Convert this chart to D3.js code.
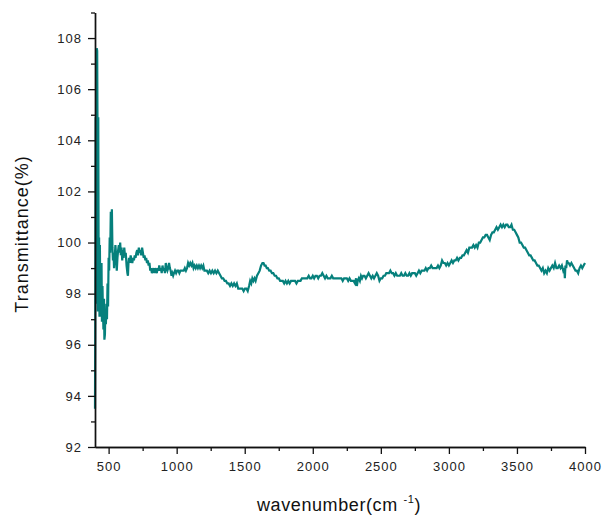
<!DOCTYPE html>
<html>
<head>
<meta charset="utf-8">
<script src="https://d3js.org/d3.v7.min.js"></script>
<style>
body{margin:0;background:#fff;}
svg{display:block;font-family:"Liberation Sans",Arial,sans-serif;}
</style>
</head>
<body>
<svg id="chart" width="602" height="515"></svg>
<script>
const wavenumber = [400,402,405,408,410,413,416,418,421,424,427,430,433,436,439,442,445,448,451,455,458,462,466,469,473,476,480,484,488,492,496,500,504,508,512,516,520,524,528,532,536,540,545,550,555,560,565,570,575,580,585,590,595,600,605,610,615,620,626,632,638,642,646,650,656,662,668,674,680,686,692,698,704,710,716,722,728,734,740,746,752,758,764,770,776,782,788,794,800,806,812,818,824,830,836,842,848,854,860,866,872,878,884,890,896,902,908,914,920,926,932,938,944,950,956,962,968,974,980,988,996,1004,1012,1020,1028,1036,1044,1052,1060,1068,1076,1084,1092,1100,1108,1116,1124,1132,1140,1148,1156,1164,1172,1180,1188,1196,1204,1212,1222,1232,1242,1252,1262,1272,1282,1292,1302,1312,1322,1332,1342,1352,1362,1372,1382,1392,1402,1412,1422,1432,1442,1452,1462,1472,1482,1492,1502,1512,1522,1532,1540,1548,1556,1564,1572,1580,1590,1600,1610,1620,1630,1638,1646,1654,1662,1670,1680,1690,1700,1710,1720,1730,1740,1750,1760,1770,1780,1790,1800,1810,1820,1830,1840,1850,1860,1870,1880,1890,1900,1910,1920,1930,1940,1950,1960,1970,1980,1990,2000,2010,2020,2030,2040,2050,2060,2070,2080,2090,2100,2110,2120,2130,2140,2150,2160,2170,2180,2190,2200,2210,2220,2230,2240,2250,2260,2270,2280,2290,2300,2310,2318,2324,2330,2338,2346,2354,2362,2370,2380,2390,2400,2410,2420,2430,2440,2450,2460,2470,2480,2490,2500,2510,2520,2530,2540,2550,2560,2570,2580,2590,2600,2610,2620,2630,2640,2650,2660,2670,2680,2690,2700,2710,2720,2730,2740,2750,2760,2770,2780,2790,2800,2810,2820,2830,2840,2850,2860,2870,2880,2890,2900,2910,2920,2930,2940,2950,2960,2970,2980,2990,3000,3010,3020,3030,3040,3050,3060,3070,3080,3090,3100,3110,3120,3130,3140,3150,3160,3170,3180,3190,3200,3210,3220,3230,3240,3250,3260,3270,3280,3290,3300,3310,3320,3330,3340,3350,3360,3370,3380,3390,3400,3410,3420,3430,3440,3450,3460,3470,3480,3490,3500,3510,3520,3530,3540,3550,3560,3570,3580,3590,3600,3610,3620,3630,3640,3650,3660,3670,3680,3690,3700,3710,3720,3730,3740,3750,3760,3770,3780,3790,3800,3810,3820,3830,3840,3848,3852,3856,3862,3868,3874,3880,3890,3900,3910,3920,3930,3940,3950,3960,3970,3980,3990,4000];
const transmittance = [93.5,97.2,104.9,97.6,105.0,107.6,107.5,105.0,97.3,104.9,98.4,100.2,97.1,99.9,97.4,98.6,97.1,99.2,96.9,98.3,97.4,96.6,97.8,96.2,96.4,97.3,96.8,97.6,97.0,98.4,97.5,99.4,98.9,100.2,99.6,101.2,100.3,101.3,99.8,99.3,99.6,99.0,99.4,99.9,99.5,98.9,99.4,99.7,99.9,99.6,100.0,99.5,99.8,99.3,99.7,99.4,99.8,99.5,99.6,99.1,98.8,98.7,99.2,99.4,99.2,99.5,99.3,99.2,99.4,99.3,99.5,99.4,99.6,99.7,99.5,99.8,99.6,99.7,99.5,99.8,99.6,99.4,99.5,99.3,99.4,99.2,99.3,99.1,99.2,98.9,99.0,98.8,98.9,99.0,98.8,99.0,98.9,98.8,99.0,98.9,99.1,98.9,99.0,98.8,99.1,98.9,99.0,98.8,99.2,99.0,98.9,99.0,99.2,99.0,98.9,98.7,98.8,98.7,98.8,98.9,98.8,98.9,98.9,98.8,98.9,98.9,98.9,98.9,99.0,98.9,99.0,99.2,99.1,99.2,99.1,99.2,99.0,99.1,99.0,99.1,99.0,99.1,99.0,99.1,99.0,99.1,98.9,98.9,98.9,98.8,98.9,98.8,98.9,98.8,98.9,98.8,98.9,98.8,98.7,98.6,98.6,98.5,98.5,98.4,98.4,98.3,98.4,98.3,98.4,98.3,98.4,98.2,98.2,98.2,98.2,98.1,98.2,98.2,98.1,98.3,98.5,98.4,98.6,98.5,98.6,98.5,98.7,98.8,98.9,99.1,99.2,99.2,99.1,99.1,99.0,99.0,98.9,98.9,98.8,98.8,98.7,98.7,98.6,98.6,98.5,98.5,98.5,98.4,98.5,98.4,98.5,98.4,98.5,98.5,98.5,98.5,98.4,98.5,98.5,98.5,98.6,98.6,98.6,98.6,98.6,98.7,98.6,98.6,98.7,98.6,98.7,98.7,98.6,98.7,98.7,98.8,98.7,98.6,98.7,98.6,98.6,98.6,98.7,98.6,98.6,98.6,98.6,98.6,98.6,98.6,98.5,98.6,98.6,98.6,98.5,98.6,98.5,98.5,98.5,98.4,98.6,98.3,98.5,98.6,98.5,98.7,98.6,98.7,98.7,98.6,98.7,98.8,98.7,98.6,98.7,98.6,98.7,98.8,98.7,98.5,98.6,98.6,98.7,98.7,98.8,98.8,98.8,98.9,98.8,98.8,98.7,98.8,98.7,98.7,98.7,98.8,98.7,98.7,98.8,98.7,98.7,98.8,98.7,98.8,98.8,98.8,98.7,98.8,98.9,98.8,98.9,98.9,98.9,99.0,98.9,99.0,99.0,99.1,99.0,99.0,99.0,99.0,99.1,99.0,99.1,99.3,99.2,99.2,99.1,99.2,99.1,99.2,99.3,99.2,99.3,99.3,99.4,99.3,99.4,99.4,99.5,99.5,99.6,99.7,99.6,99.8,99.8,99.8,99.9,99.8,99.9,99.8,100.0,100.0,100.1,100.2,100.2,100.3,100.3,100.2,100.1,100.3,100.4,100.4,100.5,100.6,100.5,100.6,100.7,100.6,100.7,100.6,100.7,100.7,100.6,100.6,100.7,100.5,100.5,100.4,100.3,100.2,100.0,100.0,99.9,99.8,99.8,99.7,99.6,99.5,99.5,99.4,99.3,99.3,99.2,99.1,99.1,99.0,98.9,99.0,98.8,98.9,98.8,99.0,98.9,99.0,99.1,99.0,99.2,99.0,99.0,99.1,99.0,99.1,98.9,99.0,98.6,99.1,99.0,99.3,99.2,99.2,99.1,99.2,99.1,99.0,98.9,98.9,98.8,99.0,99.1,99.0,99.1,99.2];
const xTicks = [500,1000,1500,2000,2500,3000,3500,4000];
const xMinorTicks = [750,1250,1750,2250,2750,3250,3750];
const yTicks = [92,94,96,98,100,102,104,106,108];
const yMinorTicks = [93,95,97,99,101,103,105,107,109];

const svg = d3.select("#chart");
const x = d3.scaleLinear().domain([400,4000]).range([95,585]);
const y = d3.scaleLinear().domain([92,109]).range([447,12.5]);

const data = wavenumber.map((w,i)=>({w, t: transmittance[i]}));

svg.append("path")
  .datum(data)
  .attr("fill","none")
  .attr("stroke","#06807c")
  .attr("stroke-width",2.2)
  .attr("stroke-linejoin","miter")
  .attr("d", d3.line().x(d=>x(d.w)).y(d=>y(d.t)));

function styleAxis(g){
  g.selectAll("path.domain").attr("stroke","#111").attr("stroke-width",1.4);
  g.selectAll("line").attr("stroke","#111").attr("stroke-width",1.3);
  g.selectAll("text").attr("fill","#222").style("font-size","13px").style("letter-spacing","1px").style("font-family","'Liberation Sans',Arial,sans-serif");
}

// minor ticks
svg.append("g").attr("transform","translate(0,447)")
  .call(d3.axisBottom(x).tickValues(xMinorTicks).tickSize(4).tickSizeOuter(0).tickFormat(""))
  .call(styleAxis);
svg.append("g").attr("transform","translate(95,0)")
  .call(d3.axisLeft(y).tickValues(yMinorTicks).tickSize(4).tickSizeOuter(0).tickFormat(""))
  .call(styleAxis);

// major axes
svg.append("g").attr("transform","translate(0,447)")
  .call(d3.axisBottom(x).tickValues(xTicks).tickSize(7).tickSizeOuter(0).tickPadding(8).tickFormat(d3.format("d")))
  .call(styleAxis);
svg.append("g").attr("transform","translate(95,0)")
  .call(d3.axisLeft(y).tickValues(yTicks).tickSize(7).tickSizeOuter(0).tickPadding(6).tickFormat(d3.format("d")))
  .call(styleAxis);

// axis titles
svg.append("text")
  .attr("transform","translate(28,234) rotate(-90)")
  .attr("text-anchor","middle")
  .attr("fill","#111")
  .style("font-size","18px")
  .style("letter-spacing","1px")
  .text("Transmittance(%)");

const xl = svg.append("text")
  .attr("x",339).attr("y",511)
  .attr("text-anchor","middle")
  .attr("fill","#111")
  .style("font-size","18px")
  .style("letter-spacing","0.6px");
xl.append("tspan").text("wavenumber(cm ");
xl.append("tspan").attr("dy",-8).style("font-size","11px").text("-1");
xl.append("tspan").attr("dy",8).text(")");
</script>
</body>
</html>
